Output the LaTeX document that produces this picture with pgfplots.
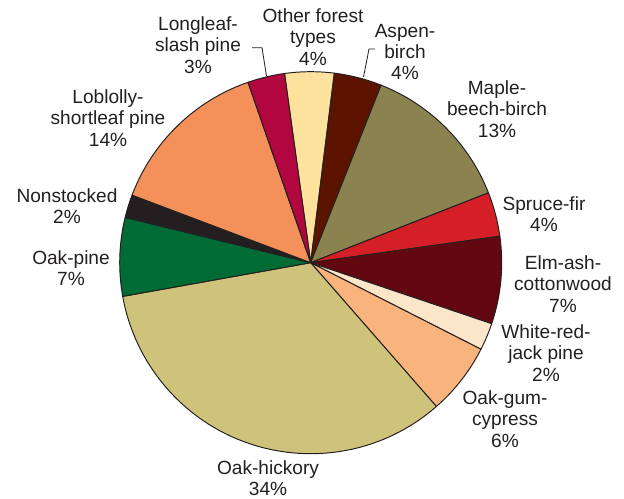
\documentclass[border=0pt]{standalone}
\usepackage{pgfplots}
\usepackage{pgfplotstable}
\pgfplotsset{compat=1.18}
\usepackage{fontspec}
\setmainfont{Liberation Sans}
\definecolor{edge}{HTML}{231F20}
\definecolor{txt}{HTML}{231F20}
\definecolor{cOther}{HTML}{FCE29C}
\definecolor{cAspen}{HTML}{5C1400}
\definecolor{cMaple}{HTML}{8A8350}
\definecolor{cSpruce}{HTML}{D41F26}
\definecolor{cElm}{HTML}{630810}
\definecolor{cWhite}{HTML}{FCE6CA}
\definecolor{cOakGum}{HTML}{F8B47C}
\definecolor{cOakHickory}{HTML}{CFC27A}
\definecolor{cOakPine}{HTML}{006B35}
\definecolor{cNonstocked}{HTML}{231F20}
\definecolor{cLoblolly}{HTML}{F4915A}
\definecolor{cLongleaf}{HTML}{B1063F}
\pgfplotstableread{
pct col
4.17 cOther
4.03 cAspen
13.03 cMaple
3.75 cSpruce
7.39 cElm
2.31 cWhite
6.08 cOakGum
33.61 cOakHickory
6.64 cOakPine
1.94 cNonstocked
13.92 cLoblolly
3.14 cLongleaf
}\piedata
\tikzset{lbl/.style={align=center, text=txt, font=\fontsize{13.8}{15.5}\selectfont, inner sep=0pt}}
\begin{document}
\begin{tikzpicture}
\begin{axis}[scale only axis, width=6.24in, height=4.99in,
  xmin=0, xmax=624, ymin=0, ymax=499, hide axis, clip=false]
\pgfplotsextra{
  \pgfplotstablegetrowsof{\piedata}
  \pgfmathtruncatemacro{\N}{\pgfplotsretval-1}
  \xdef\angA{97.9}
  \foreach \i in {0,...,\N}{
    \pgfplotstablegetelem{\i}{pct}\of\piedata \let\p\pgfplotsretval
    \pgfplotstablegetelem{\i}{col}\of\piedata \let\c\pgfplotsretval
    \pgfmathsetmacro{\angB}{\angA-3.6*\p}
    \edef\cmd{\noexpand\filldraw[fill=\c, draw=edge, line width=0.7pt, line join=round]
      (axis cs:310.7,236.3) -- ++(\angA:1.91in)
      arc[start angle=\angA, end angle=\angB, radius=1.91in] -- cycle;}
    \cmd
    \xdef\angA{\angB}
  }
  \path (axis cs:0,0) (axis cs:624,499);
}
\draw[edge, line width=0.6pt] (axis cs:252,451.3) -- (axis cs:262,451.3) -- (axis cs:266.5,423);
\draw[edge, line width=0.6pt] (axis cs:375,450) -- (axis cs:369,450) -- (axis cs:363.5,422);
\node[lbl] at (axis cs:198,454) {Longleaf-\\slash pine\\3\%};
\node[lbl] at (axis cs:313,462) {Other forest\\types\\4\%};
\node[lbl] at (axis cs:405,447) {Aspen-\\birch\\4\%};
\node[lbl] at (axis cs:497,390) {Maple-\\beech-birch\\13\%};
\node[lbl] at (axis cs:544,285) {Spruce-fir\\4\%};
\node[lbl] at (axis cs:563,215) {Elm-ash-\\cottonwood\\7\%};
\node[lbl] at (axis cs:546,146) {White-red-\\jack pine\\2\%};
\node[lbl] at (axis cs:505,80) {Oak-gum-\\cypress\\6\%};
\node[lbl] at (axis cs:268,21) {Oak-hickory\\34\%};
\node[lbl] at (axis cs:71,231) {Oak-pine\\7\%};
\node[lbl] at (axis cs:67,293) {Nonstocked\\2\%};
\node[lbl] at (axis cs:108,381) {Loblolly-\\shortleaf pine\\14\%};
\end{axis}
\end{tikzpicture}
\end{document}
